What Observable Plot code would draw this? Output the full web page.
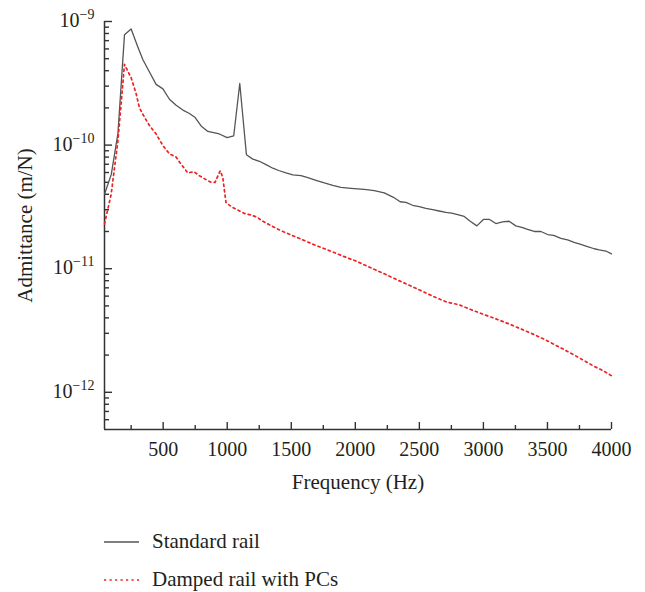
<!DOCTYPE html>
<html><head><meta charset="utf-8">
<script src="https://cdn.jsdelivr.net/npm/d3@7"></script>
<script src="https://cdn.jsdelivr.net/npm/@observablehq/plot@0.6"></script>
<style>
body{margin:0;background:#fff;}
#chart svg{display:block}
</style>
</head><body><div id="chart"></div>
<script>
const stdFreq = [42,95,147,198,250,303,342,393,445,498,549,601,654,705,750,796,849,939,999,1051,1098,1150,1200,1251,1303,1356,1407,1459,1512,1576,1629,1693,1758,1824,1888,1966,2070,2148,2226,2298,2350,2395,2447,2499,2551,2604,2655,2707,2752,2799,2850,2897,2949,3002,3045,3097,3150,3201,3253,3306,3345,3397,3449,3501,3548,3605,3657,3709,3760,3813,3865,3904,3956,4000];
const stdAdm = [4.0e-11,5.8e-11,1.25e-10,7.8e-10,8.7e-10,6.2e-10,4.9e-10,3.9e-10,3.1e-10,2.85e-10,2.35e-10,2.1e-10,1.92e-10,1.8e-10,1.67e-10,1.43e-10,1.29e-10,1.23e-10,1.15e-10,1.19e-10,3.15e-10,8.35e-11,7.7e-11,7.4e-11,6.95e-11,6.5e-11,6.2e-11,5.95e-11,5.75e-11,5.66e-11,5.45e-11,5.19e-11,4.94e-11,4.72e-11,4.55e-11,4.47e-11,4.38e-11,4.28e-11,4.1e-11,3.78e-11,3.48e-11,3.44e-11,3.26e-11,3.18e-11,3.08e-11,3.0e-11,2.93e-11,2.86e-11,2.82e-11,2.74e-11,2.65e-11,2.42e-11,2.22e-11,2.51e-11,2.51e-11,2.32e-11,2.39e-11,2.42e-11,2.22e-11,2.15e-11,2.08e-11,2.0e-11,2.0e-11,1.89e-11,1.86e-11,1.76e-11,1.71e-11,1.63e-11,1.57e-11,1.51e-11,1.45e-11,1.42e-11,1.39e-11,1.32e-11];

const dampFreq = [42,94,147,198,250,289,315,354,393,445,498,549,601,640,693,740,783,835,874,905,945,965,991,1044,1134,1186,1233,1277,1329,1420,1512,1602,1693,1797,1941,2000,2100,2226,2330,2421,2512,2604,2707,2811,2902,3006,3097,3201,3292,3383,3487,3578,3669,3760,3851,3942,4000];
const dampAdm = [2.3e-11,4.0e-11,1.09e-10,4.5e-10,3.5e-10,2.6e-10,2.0e-10,1.68e-10,1.44e-10,1.23e-10,9.9e-11,8.5e-11,8.0e-11,7.0e-11,5.95e-11,6.1e-11,5.65e-11,5.25e-11,5.0e-11,5.0e-11,6.2e-11,5.5e-11,3.4e-11,3.13e-11,2.8e-11,2.72e-11,2.61e-11,2.42e-11,2.27e-11,2.03e-11,1.85e-11,1.69e-11,1.54e-11,1.40e-11,1.22e-11,1.16e-11,1.04e-11,9.1e-12,8.1e-12,7.35e-12,6.65e-12,6.0e-12,5.4e-12,5.1e-12,4.67e-12,4.25e-12,3.93e-12,3.57e-12,3.26e-12,2.97e-12,2.65e-12,2.36e-12,2.11e-12,1.87e-12,1.65e-12,1.48e-12,1.36e-12];

const seriesNames = ["Standard rail", "Damped rail with PCs"];
const seriesColors = ["#555555", "#ee2222"];
const xMajorTicks = [500,1000,1500,2000,2500,3000,3500,4000];
const xMinorTicks = [250,750,1250,1750,2250,2750,3250,3750];
const yMajorTicks = [1e-12,1e-11,1e-10,1e-9];
const yMinorTicks = [6e-13,7e-13,8e-13,9e-13,2e-12,3e-12,4e-12,5e-12,6e-12,7e-12,8e-12,9e-12,2e-11,3e-11,4e-11,5e-11,6e-11,7e-11,8e-11,9e-11,2e-10,3e-10,4e-10,5e-10,6e-10,7e-10,8e-10,9e-10];
const xDomain = [42, 4000];
const yDomain = [5e-13, 1e-9];
const xLabel = "Frequency (Hz)";
const yLabel = "Admittance (m/N)";

const stdData = stdFreq.map((f, i) => ({f, a: stdAdm[i]}));
const dampData = dampFreq.map((f, i) => ({f, a: dampAdm[i]}));

const axisColor = "#333";
const W = 645, H = 510, mL = 104, mR = 34, mT = 21, mB = 81;
const frameH = H - mT - mB, frameW = W - mL - mR;

const plot = Plot.plot({
  width: W, height: H,
  marginLeft: mL, marginRight: mR, marginTop: mT, marginBottom: mB,
  x: {domain: xDomain},
  y: {type: "log", domain: yDomain},
  style: {fontFamily: "'Liberation Serif', 'DejaVu Serif', serif", fontSize: "20px", color: "#231f20", background: "#fff"},
  marks: [
    Plot.axisX({ticks: xMajorTicks, tickSize: 0, tickPadding: 12, label: null, tickFormat: d => String(d)}),
    Plot.axisY({ticks: yMajorTicks, tickSize: 0, tickPadding: 10, dy: -1, label: null,
      tickFormat: d => "10|\u2212" + Math.abs(Math.round(Math.log10(d)))}),
    Plot.ruleX(xMajorTicks, {x: d => d, insetTop: frameH - 7, stroke: axisColor, strokeWidth: 1.4}),
    Plot.ruleX(xMinorTicks, {x: d => d, insetTop: frameH - 4, stroke: axisColor, strokeWidth: 1.4}),
    Plot.ruleY(yMajorTicks, {y: d => d, insetRight: frameW - 8, stroke: axisColor, strokeWidth: 1.4}),
    Plot.ruleY(yMinorTicks, {y: d => d, insetRight: frameW - 5, stroke: axisColor, strokeWidth: 1.4}),
    Plot.ruleY([yDomain[0]], {stroke: axisColor, strokeWidth: 1.5}),
    Plot.ruleX([xDomain[0]], {stroke: axisColor, strokeWidth: 1.5}),
    Plot.line(stdData, {x: "f", y: "a", stroke: seriesColors[0], strokeWidth: 1.3}),
    Plot.line(dampData, {x: "f", y: "a", stroke: seriesColors[1], strokeWidth: 1.7, strokeDasharray: "2.2,3.3"}),
    Plot.text([xLabel], {text: d => d, frameAnchor: "bottom", textAnchor: "middle", dy: 59, fontSize: 21}),
    Plot.text([yLabel], {text: d => d, frameAnchor: "left", textAnchor: "middle", dx: -79, rotate: -90, fontSize: 21})
  ]
});

plot.querySelectorAll('[aria-label="y-axis tick label"] text').forEach(t => {
  const parts = t.textContent.split("|");
  if (parts.length < 2) return;
  t.textContent = parts[0];
  const ts = document.createElementNS("http://www.w3.org/2000/svg", "tspan");
  ts.setAttribute("dy", "-8");
  ts.setAttribute("font-size", "14");
  ts.textContent = parts[1];
  t.appendChild(ts);
});

const chart = document.getElementById("chart");
chart.appendChild(plot);

// Legend below the plot
const leg = d3.create("svg").attr("width", W).attr("height", 82)
  .style("display", "block")
  .style("font-family", "'Liberation Serif', 'DejaVu Serif', serif")
  .style("font-size", "21px");
const legRows = [
  {name: seriesNames[0], color: seriesColors[0], dash: null, w: 1.3, y: 32},
  {name: seriesNames[1], color: seriesColors[1], dash: "2.2,3.3", w: 1.7, y: 70}
];
legRows.forEach(r => {
  leg.append("line").attr("x1", 104).attr("x2", 139).attr("y1", r.y).attr("y2", r.y)
    .attr("stroke", r.color).attr("stroke-width", r.w).attr("stroke-dasharray", r.dash);
  leg.append("text").attr("x", 152).attr("y", r.y + 5.5).attr("fill", "#231f20").text(r.name);
});
chart.appendChild(leg.node());
</script>
</body></html>
